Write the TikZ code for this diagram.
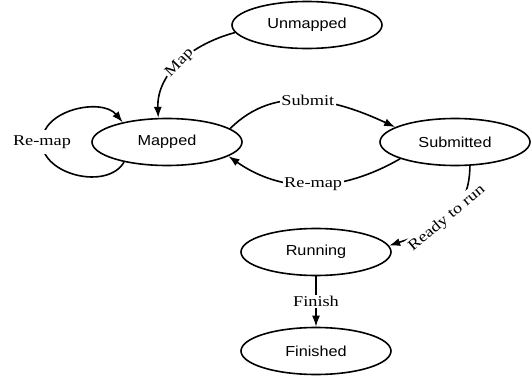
\documentclass[tikz,border=0pt]{standalone}
\usepackage{fontspec}
\newfontfamily\nodefont[FakeStretch=1.12]{Liberation Sans}
\newfontfamily\labfont[FakeStretch=1.22]{Liberation Serif}
\usetikzlibrary{shapes.geometric,arrows.meta}
\begin{document}
\begin{tikzpicture}[x=1pt,y=1pt,
  state/.style={ellipse, draw, line width=1.6pt, minimum width=150pt, minimum height=47pt, inner sep=0pt,
    font=\nodefont\fontsize{14.5}{16}\selectfont},
  lab/.style={fill=white, inner sep=1.5pt, font=\labfont\fontsize{15}{17}\selectfont},
  arr/.style={line width=1.6pt, -{Latex[length=11pt,width=8pt]}}]
\useasboundingbox (0,0) rectangle (531,381);
\node[state] (U) at (307,356) {Unmapped};
\node[state] (M) at (167,239) {Mapped};
\node[state] (S) at (455,239) {Submitted};
\node[state] (R) at (316,129) {Running};
\node[state] (F) at (316,30) {Finished};
\coordinate (lp) at (42,239);
\draw[arr] (U.186) to[out=195,in=92] node[lab,sloped,pos=0.5]{Map} (M.110);
\draw[arr] (M.205) to[out=240,in=270] (lp) to[out=90,in=130] (M.156);
\node[lab, inner ysep=5pt] (rl) at (lp) {Re-map};
\draw[arr] (M.12) to[out=45,in=155] node[lab]{Submit} (S.166);
\draw[arr] (S.197) to[out=210,in=-35] node[lab]{Re-map} (M.347);
\draw[arr] (S.-58) to[out=-90,in=18,looseness=1.1] node[lab,sloped,pos=0.5,inner sep=2.5pt]{Ready to run} (R.5);
\draw[arr] (R) -- node[lab]{Finish} (F);
\end{tikzpicture}
\end{document}
